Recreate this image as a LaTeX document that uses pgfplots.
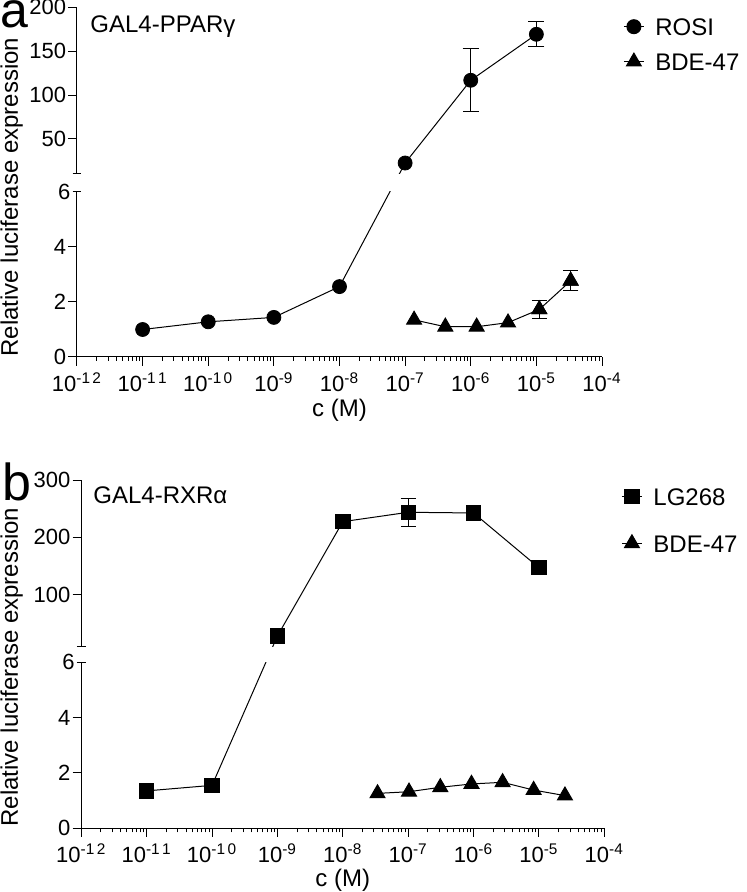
\documentclass[border=0pt]{standalone}
\usepackage{pgfplots}
\pgfplotsset{compat=1.18}
\pgfkeys{/pgf/number format/assume math mode=true}
\usepackage{fontspec}
\setmainfont{Liberation Sans}
\newcommand{\tf}{\fontsize{11}{12}\selectfont}
\newcommand{\lf}{\fontsize{12}{14}\selectfont}
\tikzset{
  myLn/.style={black, line width=0.5pt},
  myCirc/.style={black, mark=*, mark size=3.5pt, mark options={solid}},
  mySq/.style={black, mark=square*, mark size=3.6pt, mark options={solid}},
  myTri/.style={black, mark=triangle*, mark size=4.3pt, mark options={solid}},
}

\begin{document}
\begin{tikzpicture}
\useasboundingbox (0pt,0pt) rectangle (373pt,-446pt);

% ---------------- Panel a upper ----------------
\begin{axis}[at={(38.5pt,-87pt)}, anchor=south west, scale only axis, width=262.5pt, height=83.35pt,
  xmode=log, xmin=1e-12, xmax=1e-4, ymin=10, ymax=200, ytick={50,100,150,200},
  axis x line=none, axis y line=left, axis line style={-, line width=0.5pt},
  tick style={black, line width=0.5pt}, tick align=outside, major tick length=4.3pt,
  yticklabel style={font=\tf, inner sep=1pt, /pgf/number format/assume math mode=true},
  extra y ticks={10}, extra y tick labels={}, extra y tick style={tick align=center},
  legend image code/.code={\draw[mark repeat=2, mark phase=2, #1] plot coordinates {(0pt,0pt)(5pt,0pt)(10pt,0pt)};},
  legend style={draw=none, fill=none, anchor=north west, inner sep=0pt, font=\lf,
    at={(axis description cs:1.04,0.94)}, row sep=8.5pt,
    nodes={inner xsep=5.5pt, inner ysep=0pt, text height=9pt, text depth=0pt}},
  legend cell align=left]
\addlegendimage{myLn, myCirc}
\addlegendentry{ROSI}
\addlegendimage{myLn, myTri}
\addlegendentry{BDE-47}
\addplot[myLn, mark=none, forget plot] coordinates {(1e-8,-118.4)(1e-7,22.5)(1e-6,116.8)(1e-5,169.2)};
\addplot[only marks, myCirc, forget plot] coordinates {(1e-7,22.5)};
\addplot[only marks, myCirc, forget plot, error bars/.cd, y dir=both, y explicit,
  error bar style={line width=0.5pt, black}, error mark options={rotate=90, mark size=4pt, line width=0.5pt, black}]
  coordinates {(1e-6,116.8) +- (0,36) (1e-5,169.2) +- (0,14.3)};
\end{axis}

% ---------------- Panel a lower ----------------
\begin{axis}[at={(38.5pt,-178.5pt)}, anchor=south west, scale only axis, width=262.5pt, height=82.5pt,
  xmode=log, xmin=1e-12, xmax=1e-4, ymin=0, ymax=6, ytick={0,2,4},
  axis x line=bottom, axis y line=left, axis line style={-, line width=0.5pt},
  tick style={black, line width=0.5pt}, tick align=outside, major tick length=4.3pt, minor tick length=2pt,
  yticklabel style={font=\tf, inner sep=1pt, /pgf/number format/assume math mode=true},
  extra y ticks={6}, extra y tick style={tick align=center},
  xtick={1e-12,1e-11,1e-10,1e-9,1e-8,1e-7,1e-6,1e-5,1e-4},
  xticklabels={10\textsuperscript{-1\kern1.2pt 2},10\textsuperscript{-1\kern1.2pt 1},10\textsuperscript{-1\kern1.2pt 0},10\textsuperscript{-9},10\textsuperscript{-8},10\textsuperscript{-7},10\textsuperscript{-6},10\textsuperscript{-5},10\textsuperscript{-4}},
  xticklabel style={font=\tf},
  xlabel={c (M)},
  xlabel style={font=\lf, at={(axis description cs:0.5,0)}, anchor=base, yshift=-30pt}]
\addplot[myLn, mark=none, forget plot] coordinates {(1e-11,1.00)(1e-10,1.28)(1e-9,1.44)(1e-8,2.56)(1e-7,7.05)};
\addplot[only marks, myCirc, forget plot] coordinates {(1e-11,1.00)(1e-10,1.28)(1e-9,1.44)(1e-8,2.56)};
\addplot[myLn, myTri, forget plot] coordinates {(1.37e-7,1.35)(4.1e-7,1.10)(1.23e-6,1.10)(3.7e-6,1.25)(1.11e-5,1.73)(3.33e-5,2.77)};
\addplot[only marks, myTri, forget plot, error bars/.cd, y dir=both, y explicit,
  error bar style={line width=0.5pt, black}, error mark options={rotate=90, mark size=3.8pt, line width=0.5pt, black}]
  coordinates {(1.11e-5,1.73) +- (0,0.33) (3.33e-5,2.77) +- (0,0.37)};
\end{axis}

% ---------------- Panel b upper ----------------
\begin{axis}[at={(40.65pt,-323pt)}, anchor=south west, scale only axis, width=261.5pt, height=83pt,
  xmode=log, xmin=1e-12, xmax=1e-4, ymin=10, ymax=300, ytick={100,200,300},
  axis x line=none, axis y line=left, axis line style={-, line width=0.5pt},
  tick style={black, line width=0.5pt}, tick align=outside, major tick length=4.3pt,
  yticklabel style={font=\tf, inner sep=1pt, /pgf/number format/assume math mode=true},
  extra y ticks={10}, extra y tick labels={}, extra y tick style={tick align=center},
  legend image code/.code={\draw[mark repeat=2, mark phase=2, #1] plot coordinates {(0pt,0pt)(5pt,0pt)(10pt,0pt)};},
  legend style={draw=none, fill=none, anchor=north west, inner sep=0pt, font=\lf,
    at={(axis description cs:1.032,0.958)}, row sep=14.5pt,
    nodes={inner xsep=5.5pt, inner ysep=0pt, text height=9pt, text depth=0pt}},
  legend cell align=left]
\addlegendimage{myLn, mySq}
\addlegendentry{LG268}
\addlegendimage{myLn, myTri}
\addlegendentry{BDE-47}
\addplot[myLn, mark=none, forget plot] coordinates {(1e-10,-233.4)(1e-9,27.5)(1e-8,227.2)(1e-7,243.6)(1e-6,242.4)(1e-5,146.8)};
\addplot[only marks, mySq, forget plot] coordinates {(1e-9,27.5)(1e-8,227.2)(1e-6,242.4)(1e-5,146.8)};
\addplot[only marks, mySq, forget plot, error bars/.cd, y dir=both, y explicit,
  error bar style={line width=0.5pt, black}, error mark options={rotate=90, mark size=3.8pt, line width=0.5pt, black}]
  coordinates {(1e-7,243.6) +- (0,24)};
\end{axis}

% ---------------- Panel b lower ----------------
\begin{axis}[at={(40.65pt,-414.15pt)}, anchor=south west, scale only axis, width=261.5pt, height=83.15pt,
  xmode=log, xmin=1e-12, xmax=1e-4, ymin=0, ymax=6, ytick={0,2,4},
  axis x line=bottom, axis y line=left, axis line style={-, line width=0.5pt},
  tick style={black, line width=0.5pt}, tick align=outside, major tick length=4.3pt, minor tick length=2pt,
  yticklabel style={font=\tf, inner sep=1pt, /pgf/number format/assume math mode=true},
  extra y ticks={6}, extra y tick style={tick align=center},
  xtick={1e-12,1e-11,1e-10,1e-9,1e-8,1e-7,1e-6,1e-5,1e-4},
  xticklabels={10\textsuperscript{-1\kern1.2pt 2},10\textsuperscript{-1\kern1.2pt 1},10\textsuperscript{-1\kern1.2pt 0},10\textsuperscript{-9},10\textsuperscript{-8},10\textsuperscript{-7},10\textsuperscript{-6},10\textsuperscript{-5},10\textsuperscript{-4}},
  xticklabel style={font=\tf},
  xlabel={c (M)},
  xlabel style={font=\lf, at={(axis description cs:0.5,0)}, anchor=base, yshift=-29.3pt}]
\addplot[myLn, mark=none, forget plot] coordinates {(1e-11,1.35)(1e-10,1.55)(1e-9,6.94)};
\addplot[only marks, mySq, forget plot] coordinates {(1e-11,1.35)(1e-10,1.55)};
\addplot[myLn, myTri, forget plot] coordinates {(3.4e-8,1.26)(1.03e-7,1.32)(3.1e-7,1.48)(9.3e-7,1.60)(2.78e-6,1.66)(8.3e-6,1.38)(2.5e-5,1.18)};
\end{axis}

% panel letters, titles, y labels
\node[anchor=base west, inner sep=0pt, font=\fontsize{25}{25}\selectfont] at (0pt,-14pt) {a};
\node[anchor=base west, inner sep=0pt, font=\fontsize{26}{26}\selectfont] at (1pt,-250pt) {b};
\node[anchor=base west, inner sep=0pt, font=\lf] at (45pt,-16.5pt) {GAL4-PPARγ};
\node[anchor=base west, inner sep=0pt, font=\lf] at (46.5pt,-251.5pt) {GAL4-RXRα};
\node[rotate=90, anchor=base, inner sep=0pt, font=\lf] at (9pt,-98.5pt) {Relative luciferase expression};
\node[rotate=90, anchor=base, inner sep=0pt, font=\lf] at (9pt,-333.5pt) {Relative luciferase expression};
\end{tikzpicture}
\end{document}
